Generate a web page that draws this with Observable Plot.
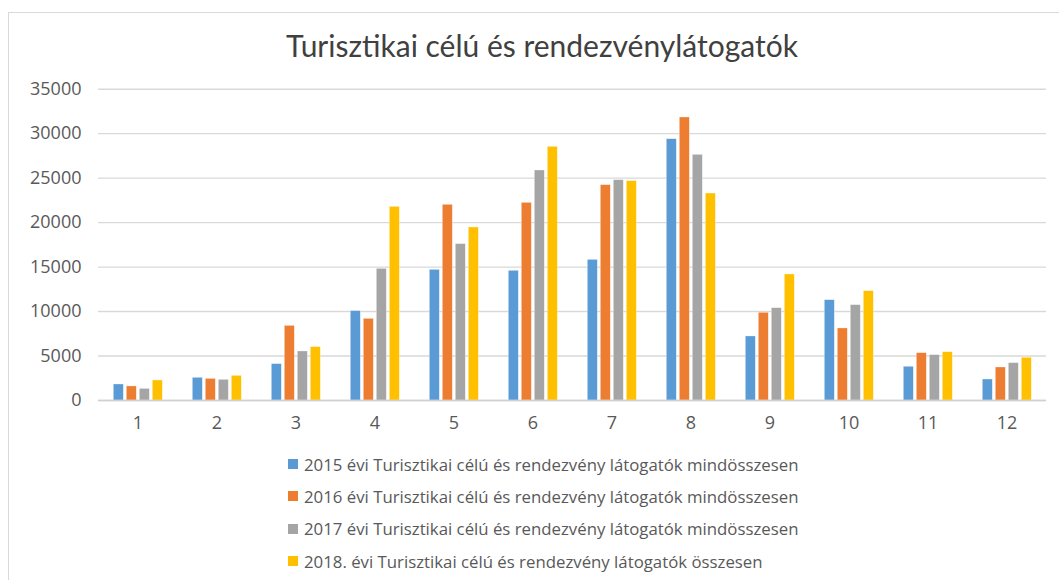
<!DOCTYPE html>
<html>
<head>
<meta charset="utf-8">
<script src="https://cdn.jsdelivr.net/npm/d3@7"></script>
<script src="https://cdn.jsdelivr.net/npm/@observablehq/plot@0.6"></script>
<style>
  html, body { margin: 0; padding: 0; background: #fff; }
  #wrap { position: relative; width: 1059px; height: 580px; overflow: hidden; background: #fff; }
  #frame { position: absolute; left: 8px; top: 12px; width: 1100px; height: 700px; border-top: 1.5px solid #d9d9d9; border-left: 1.5px solid #d9d9d9; }
  #title { position: absolute; left: 0; width: 1084px; top: 27px; text-align: center; font-family: "Lato", sans-serif; font-size: 30px; color: #404040; }
  #chart { position: absolute; left: 0; top: 60px; }
  #legend { position: absolute; left: 288px; top: 448px; font-family: "Open Sans", sans-serif; font-size: 16.8px; color: #595959; }
  .row { height: 32.3px; display: flex; align-items: center; white-space: nowrap; }
  .sw { width: 10px; height: 10px; margin-right: 6px; display: inline-block; }
</style>
</head>
<body>
<div id="wrap">
  <div id="frame"></div>
  <div id="title">Turisztikai célú és rendezvénylátogatók</div>
  <div id="chart"></div>
  <div id="legend"></div>
</div>
<script>
const months = [1, 2, 3, 4, 5, 6, 7, 8, 9, 10, 11, 12];
const seriesNames = [
  "2015 évi Turisztikai célú és rendezvény látogatók mindösszesen",
  "2016 évi Turisztikai célú és rendezvény látogatók mindösszesen",
  "2017 évi Turisztikai célú és rendezvény látogatók mindösszesen",
  "2018. évi Turisztikai célú és rendezvény látogatók összesen"
];
const colors = ["#5B9BD5", "#ED7D31", "#A5A5A5", "#FFC000"];
const s2015 = [1800, 2550, 4090, 10050, 14690, 14580, 15810, 29380, 7200, 11280, 3790, 2360];
const s2016 = [1580, 2430, 8390, 9180, 22000, 22220, 24210, 31820, 9860, 8100, 5320, 3710];
const s2017 = [1300, 2320, 5510, 14800, 17580, 25860, 24770, 27620, 10380, 10720, 5100, 4200];
const s2018 = [2250, 2770, 6000, 21770, 19450, 28520, 24660, 23270, 14170, 12290, 5430, 4800];
const yTicks = [0, 5000, 10000, 15000, 20000, 25000, 30000, 35000];

const seriesValues = [s2015, s2016, s2017, s2018];
const data = [];
seriesNames.forEach((name, si) => {
  months.forEach((m, mi) => data.push({month: m, series: name, value: seriesValues[si][mi]}));
});

const chart = Plot.plot({
  width: 1059,
  height: 380,
  marginTop: 28.7,
  marginBottom: 40,
  marginLeft: 96.7,
  marginRight: 12.3,
  style: {fontFamily: "Open Sans, sans-serif", fontSize: "18px", color: "#595959", background: "transparent"},
  fx: {domain: months, padding: 0, axis: "bottom", tickSize: 0, tickPadding: 16, label: null},
  x: {domain: seriesNames, axis: null, paddingInner: 0.2, paddingOuter: 0.93},
  y: {domain: [0, 35000], ticks: yTicks, tickSize: 0, tickPadding: 17, tickFormat: d3.format("d"), label: null},
  color: {domain: seriesNames, range: colors},
  marks: [
    Plot.gridY(yTicks, {stroke: "#d9d9d9", strokeOpacity: 1, strokeWidth: 1.4}),
    Plot.barY(data, {fx: "month", x: "series", y: "value", fill: "series", stroke: "#ffffff", strokeOpacity: 0.5, strokeWidth: 0.6}),
    Plot.ruleY([0], {stroke: "#d0d0d0", strokeWidth: 1.5})
  ]
});
document.getElementById("chart").appendChild(chart);

const legend = document.getElementById("legend");
seriesNames.forEach((name, i) => {
  const row = document.createElement("div");
  row.className = "row";
  const sw = document.createElement("span");
  sw.className = "sw";
  sw.style.background = colors[i];
  row.appendChild(sw);
  row.appendChild(document.createTextNode(name));
  legend.appendChild(row);
});
</script>
</body>
</html>
